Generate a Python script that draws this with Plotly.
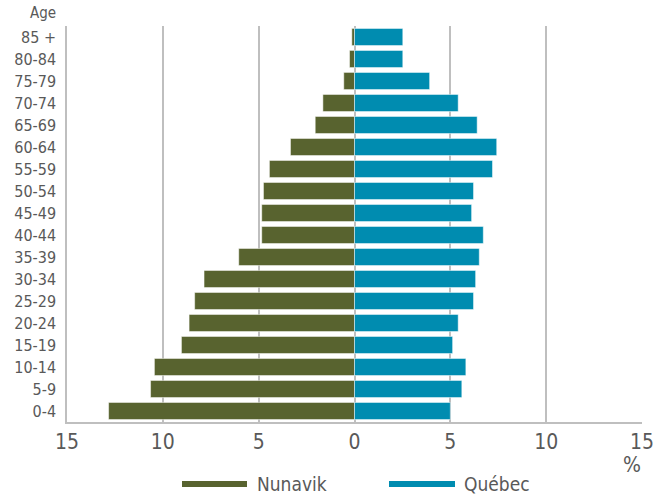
import plotly.graph_objects as go

ages = ["0-4", "5-9", "10-14", "15-19", "20-24", "25-29", "30-34", "35-39",
        "40-44", "45-49", "50-54", "55-59", "60-64", "65-69", "70-74",
        "75-79", "80-84", "85 +"]
nunavik = [12.83, 10.64, 10.44, 9.03, 8.63, 8.34, 7.85, 6.04,
           4.84, 4.84, 4.75, 4.44, 3.34, 2.05, 1.65, 0.56, 0.26, 0.14]
quebec = [5.0, 5.6, 5.81, 5.12, 5.41, 6.21, 6.32, 6.51,
          6.72, 6.11, 6.21, 7.2, 7.42, 6.4, 5.41, 3.92, 2.52, 2.52]
tick_vals = [-15, -10, -5, 0, 5, 10, 15]
tick_text = ["15", "10", "5", "0", "5", "10", "15"]

C_NUN = "#58632F"
C_QC = "#008CB0"
TXT = "#595959"
GRID = "#BFBFBF"
FONT = "DejaVu Sans Condensed, Roboto, sans-serif"

fig = go.Figure()
fig.add_trace(go.Bar(y=ages, x=[-v for v in nunavik], orientation="h",
                     marker=dict(color=C_NUN, line=dict(color="white", width=0.5)),
                     name="Nunavik", showlegend=False))
fig.add_trace(go.Bar(y=ages, x=quebec, orientation="h",
                     marker=dict(color=C_QC, line=dict(color="white", width=0.5)),
                     name="Québec", showlegend=False))

fig.update_layout(
    width=667, height=498,
    margin=dict(l=67, r=25, t=26, b=76),
    plot_bgcolor="white", paper_bgcolor="white",
    barmode="relative", bargap=0.22,
    font=dict(family=FONT, color=TXT),
    showlegend=False,
)
fig.update_xaxes(range=[-15, 15], tickvals=tick_vals, ticktext=tick_text,
                 showgrid=True, gridcolor=GRID, gridwidth=1.5,
                 zeroline=True, zerolinecolor=GRID, zerolinewidth=1.5,
                 showline=True, linecolor=GRID, linewidth=1.5,
                 tickfont=dict(size=21, color=TXT, family=FONT), ticks="")
fig.update_yaxes(showgrid=False, showline=True, linecolor=GRID, linewidth=1.5,
                 tickfont=dict(size=16, color=TXT, family=FONT), ticks="",
                 ticklabelstandoff=6)

W = 575.0
H = 396.0
def px(x):
    return (x - 67) / W
def py(y):
    return (422 - y) / H

fig.add_annotation(text="Age", x=px(58), y=py(13), xref="paper", yref="paper",
                   xanchor="right", yanchor="middle", showarrow=False,
                   font=dict(size=15, color=TXT, family=FONT))
fig.add_annotation(text="%", x=px(632), y=py(465), xref="paper", yref="paper",
                   xanchor="center", yanchor="middle", showarrow=False,
                   font=dict(size=21, color=TXT, family=FONT))

# legend drawn manually
for x0, x1, xt, col, name in [(182, 247, 255, C_NUN, "Nunavik"),
                               (389, 455, 462, C_QC, "Québec")]:
    fig.add_shape(type="line", xref="paper", yref="paper",
                  x0=px(x0), x1=px(x1), y0=py(484), y1=py(484),
                  line=dict(color=col, width=6))
    fig.add_annotation(text=name, x=px(xt), y=py(484), xref="paper", yref="paper",
                       xanchor="left", yanchor="middle", showarrow=False,
                       font=dict(size=19, color=TXT, family=FONT))

fig.write_html("out.html", config={"displayModeBar": False},
               post_script="document.body.style.margin='0';")
